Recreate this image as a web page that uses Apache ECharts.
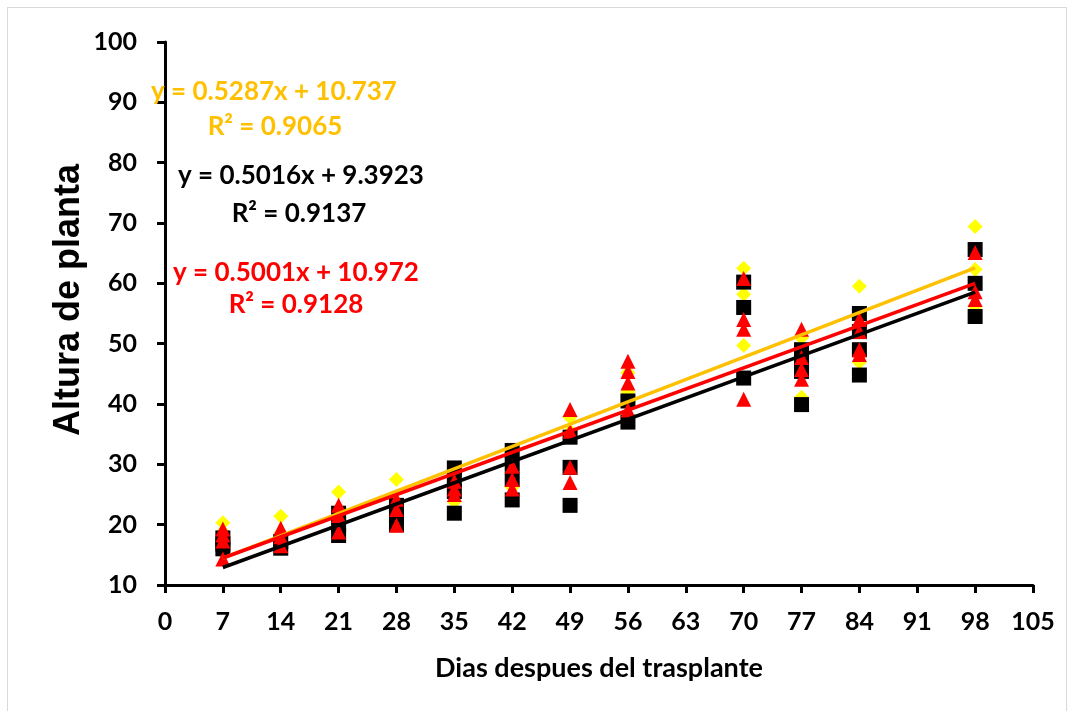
<!DOCTYPE html>
<html>
<head>
<meta charset="utf-8">
<script src="https://cdn.jsdelivr.net/npm/echarts@6/dist/echarts.min.js"></script>
<style>
html,body{margin:0;padding:0;background:#fff;}
#frame{position:absolute;left:7px;top:7px;width:1060px;height:720px;border:1px solid #d9d9d9;box-sizing:border-box;}
#chart{position:absolute;left:0;top:0;width:1078px;height:711px;}
</style>
</head>
<body>
<div id="frame"></div>
<div id="chart"></div>
<script>
// Days after transplant
const days = [7, 14, 21, 28, 35, 42, 49, 56, 70, 77, 84, 98];
// Plant height readings per day (several replicates per day)
const yellowVals = [
  [20.3, 18.8], [21.4, 18.5], [25.4, 22.5], [27.5, 23.5], [27.0, 23.8], [31.5, 26.2],
  [37.8, 35.5], [45.2, 42.0], [62.5, 58.2, 49.7], [51.0, 41.1], [59.5, 46.9], [69.4, 62.3, 56.2]
];
const blackVals = [
  [17.8, 16.8, 16.0], [17.2, 16.1], [21.9, 20.0, 18.2], [23.2, 21.5, 20.0],
  [29.4, 27.5, 25.5, 21.9], [32.3, 30.0, 27.5, 24.1], [34.5, 29.5, 23.2], [40.5, 37.0],
  [60.2, 56.0, 44.3], [49.0, 47.0, 45.4, 39.9], [55.0, 52.0, 49.0, 44.8], [65.6, 60.0, 54.5]
];
const redVals = [
  [19.3, 18.3, 17.3, 14.3], [19.4, 18.0, 16.5], [23.2, 21.5, 18.8], [24.2, 22.5, 19.9],
  [27.2, 25.9, 25.0], [29.7, 27.5, 25.9], [39.1, 35.5, 29.5, 27.0], [47.1, 45.4, 43.5, 39.0],
  [60.8, 54.0, 52.4, 40.8], [52.4, 47.7, 45.7, 44.1], [54.0, 52.0, 49.0, 48.2], [65.1, 58.6, 57.3]
];
// Trend line coefficients [slope, intercept] and R²
const yellowFit = [0.5287, 10.737];
const blackFit = [0.5016, 9.3923];
const redFit = [0.5001, 10.972];
const yellowR2 = 0.9065, blackR2 = 0.9137, redR2 = 0.9128;
const fitRange = [7, 98];
const xTicks = [0, 105, 7];
const yTicks = [10, 100, 10];
const xTitle = 'Dias despues del trasplante';
const yTitle = 'Altura de planta';

function pts(vals) {
  const out = [];
  days.forEach((d, i) => vals[i].forEach(v => out.push([d, v])));
  return out;
}
function fitLine(f) {
  return fitRange.map(x => [x, f[0] * x + f[1]]);
}
function eqText(f) {
  return 'y = ' + f[0] + 'x + ' + f[1];
}

const chart = echarts.init(document.getElementById('chart'));
const FONT = 'Lato';
const EQFONT = 'bold 26px Lato';
chart.setOption({
  animation: false,
  grid: { left: 165, right: 45, top: 42, bottom: 126 },
  xAxis: {
    type: 'value', min: xTicks[0], max: xTicks[1], interval: xTicks[2],
    name: xTitle, nameLocation: 'middle', nameGap: 70,
    nameTextStyle: { fontFamily: FONT, fontWeight: 'bold', fontSize: 27, color: '#000' },
    axisLine: { lineStyle: { color: '#000', width: 3 } },
    axisTick: { show: true, length: 8, lineStyle: { color: '#000', width: 3 } },
    axisLabel: { fontFamily: FONT, fontWeight: 'bold', fontSize: 25, color: '#000', margin: 24 },
    splitLine: { show: false }
  },
  yAxis: {
    type: 'value', min: yTicks[0], max: yTicks[1], interval: yTicks[2],
    axisLine: { lineStyle: { color: '#000', width: 3 } },
    axisTick: { show: true, length: 8, lineStyle: { color: '#000', width: 3 } },
    axisLabel: { fontFamily: FONT, fontWeight: 'bold', fontSize: 25, color: '#000', margin: 28 },
    splitLine: { show: false }
  },
  series: [
    { type: 'scatter', data: pts(yellowVals), symbol: 'diamond', symbolSize: 15,
      itemStyle: { color: '#FFFF00', opacity: 1 }, z: 2 },
    { type: 'scatter', data: pts(blackVals), symbol: 'rect', symbolSize: 15,
      itemStyle: { color: '#000000', opacity: 1 }, z: 3 },
    { type: 'scatter', data: pts(redVals), symbol: 'triangle', symbolSize: 15,
      itemStyle: { color: '#FF0000', opacity: 1 }, z: 4 },
    { type: 'line', data: fitLine(blackFit), symbol: 'none', z: 5,
      lineStyle: { color: '#000000', width: 3.5 } },
    { type: 'line', data: fitLine(yellowFit), symbol: 'none', z: 6,
      lineStyle: { color: '#FFC000', width: 3.5 } },
    { type: 'line', data: fitLine(redFit), symbol: 'none', z: 7,
      lineStyle: { color: '#FF0000', width: 3.5 } }
  ],
  graphic: [
    { type: 'text', x: 69, y: 300, rotation: Math.PI / 2, style: { text: yTitle, fill: '#000', font: 'bold 36px "Liberation Sans"', textAlign: 'center', textVerticalAlign: 'middle' }, z: 10 },
    { type: 'text', x: 274, y: 92, style: { text: eqText(yellowFit), fill: '#FFC000', font: EQFONT, textAlign: 'center', textVerticalAlign: 'middle' }, z: 10 },
    { type: 'text', x: 275, y: 127, style: { text: 'R² = ' + yellowR2, fill: '#FFC000', font: EQFONT, textAlign: 'center', textVerticalAlign: 'middle' }, z: 10 },
    { type: 'text', x: 301, y: 176, style: { text: eqText(blackFit), fill: '#000000', font: EQFONT, textAlign: 'center', textVerticalAlign: 'middle' }, z: 10 },
    { type: 'text', x: 299, y: 214, style: { text: 'R² = ' + blackR2, fill: '#000000', font: EQFONT, textAlign: 'center', textVerticalAlign: 'middle' }, z: 10 },
    { type: 'text', x: 296, y: 273, style: { text: eqText(redFit), fill: '#FF0000', font: EQFONT, textAlign: 'center', textVerticalAlign: 'middle' }, z: 10 },
    { type: 'text', x: 296, y: 305, style: { text: 'R² = ' + redR2, fill: '#FF0000', font: EQFONT, textAlign: 'center', textVerticalAlign: 'middle' }, z: 10 }
  ]
});
</script>
</body>
</html>
